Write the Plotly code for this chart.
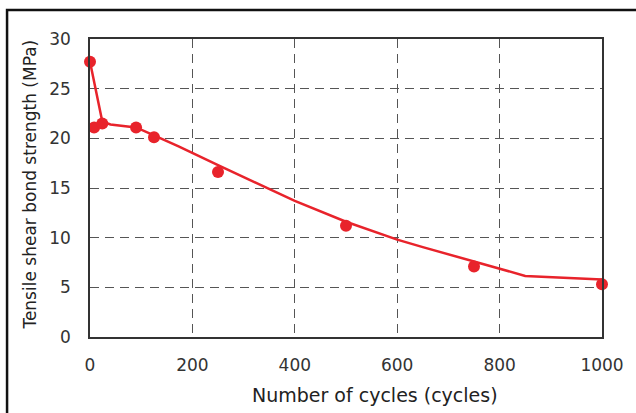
import plotly.graph_objects as go

# Measured data points
cycles = [0, 8, 24, 90, 125, 250, 500, 750, 1000]
strength = [27.7, 21.1, 21.5, 21.1, 20.1, 16.6, 11.2, 7.1, 5.3]

# Fitted trend line
fit_cycles = [0, 24, 40, 90, 125, 173, 250, 400, 500, 560, 600, 650, 750, 800, 850, 1000]
fit_strength = [27.7, 21.7, 21.4, 21.1, 20.3, 19.2, 17.3, 13.7, 11.6, 10.5, 9.8, 9.05, 7.6, 6.85, 6.15, 5.8]

x_ticks = [0, 200, 400, 600, 800, 1000]
y_ticks = [0, 5, 10, 15, 20, 25, 30]

RED = "#e8232b"
FONT = "DejaVu Sans"

fig = go.Figure()
fig.add_trace(go.Scatter(x=fit_cycles, y=fit_strength, mode="lines",
                         line=dict(color=RED, width=2.5), cliponaxis=False,
                         hoverinfo="skip", showlegend=False))
fig.add_trace(go.Scatter(x=cycles, y=strength, mode="markers",
                         marker=dict(color=RED, size=12, line=dict(width=0)),
                         cliponaxis=False, showlegend=False))

grid = dict(showgrid=True, gridcolor="#555555", griddash="9px,6px", gridwidth=1.2)
fig.update_xaxes(range=[0, 1000], tickvals=x_ticks, zeroline=False,
                 showline=True, linecolor="#333333", linewidth=1.5, mirror=True,
                 ticks="", ticklabelstandoff=12,
                 tickfont=dict(family=FONT, size=17, color="#333333"), **grid)
fig.update_yaxes(range=[0, 30], tickvals=y_ticks, zeroline=False,
                 showline=True, linecolor="#333333", linewidth=1.5, mirror=True,
                 ticks="", ticklabelstandoff=14,
                 tickfont=dict(family=FONT, size=17, color="#333333"), **grid)

fig.add_annotation(text="Number of cycles (cycles)", xref="paper", yref="paper",
                   x=0.556, y=-0.196, xanchor="center", yanchor="middle",
                   showarrow=False, font=dict(family=FONT, size=19, color="#222222"))
fig.add_annotation(text="Tensile shear bond strength (MPa)", xref="paper", yref="paper",
                   x=-0.118, y=0.51, xanchor="center", yanchor="middle", textangle=-90,
                   showarrow=False, font=dict(family=FONT, size=17, color="#222222"))

# outer frame of the figure
fig.add_shape(type="rect", xref="paper", yref="paper",
              x0=-0.162, x1=1.08, y0=-0.3, y1=1.097,
              line=dict(color="#111111", width=2.5), layer="above")

fig.update_layout(width=636, height=413,
                  margin=dict(l=90, r=28, t=39, b=76),
                  paper_bgcolor="white", plot_bgcolor="white",
                  showlegend=False)

fig.write_html("out.html")
